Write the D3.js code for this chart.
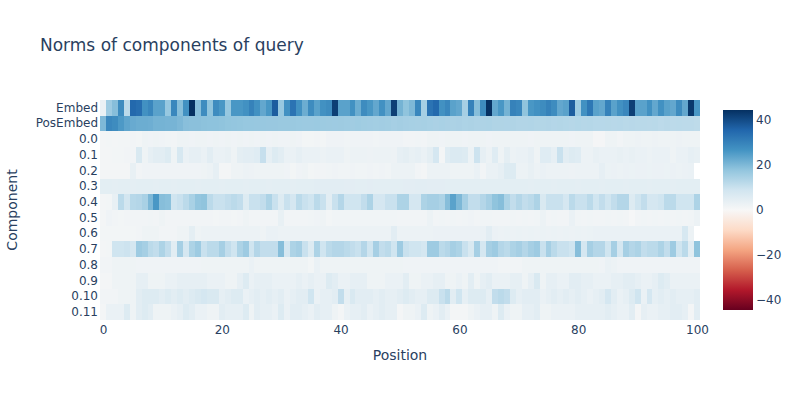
<!DOCTYPE html>
<html>
<head>
<meta charset="utf-8">
<script src="https://cdn.jsdelivr.net/npm/d3@7"></script>
<style>
  body { margin: 0; background: #fff; }
  svg text { font-family: "DejaVu Sans", verdana, arial, sans-serif; fill: #2a3f5f; }
</style>
</head>
<body>
<svg id="chart" width="800" height="400"></svg>
<script>
const components = ["Embed","PosEmbed","0.0","0.1","0.2","0.3","0.4","0.5","0.6","0.7","0.8","0.9","0.10","0.11"];
const positions = d3.range(0, 101);
const xTickValues = [0, 20, 40, 60, 80, 100];
const cbTickValues = [-40, -20, 0, 20, 40];

const embed = [3,16,19,28,12,35,34,27,29,24,24,17,29,19,27,44.4,19,28,18,28,26,17,26,26,27,30,27,23,26,37,17,27,33,27,22,28,24,27,28,42,24,24,27,22,28,26,23,27,23,42,21,
  18,20,29,15,33,35,27,29,24,23,15,30,19,28,44.2,23,26,21,30,29,18,26,27,28,30,28,23,24,37,16,27,32,24,23,30,24,27,29,42,24,24,27,23,27,24,23,28,23,43,26];
const posEmbed = [20,29,28,25.5,23.5,22.5,22,22,21.8,21,21,20.8,20.8,20,18.8,18.6,18.6,18.3,18.2,18.2,18,17.6,17.5,17.3,17,17,16.9,16.9,16.8,16.8,16.7,16.7,16.6,16.5,
  16.4,16.3,16.5,16.2,16.1,16,16.1,15.9,15.7,15.9,15.6,15.5,15.3,15.5,15.3,15,15.2,15,14.8,14.6,14.8,14.5,14.3,14.5,14.3,14.1,14.3,14,14.1,13.8,13.8,13.9,13.6,13.6,
  13.5,13.6,13.3,13.3,13.4,13.1,13.1,13.2,13,13.1,12.9,12.7,12.9,12.7,12.8,12.5,12.5,12.6,12.4,12.5,12.2,12.4,12.2,12.3,12.1,12.2,11.9,12.1,11.9,12,11.8,11.9,11.6];
const l0_0 = [1,1.1,1,1.2,1.1,1.3,1.2,2,1.8,2.1,1.9,1.7,1.5,2,2.2,1.8,2,2,1.9,2.1,1.8,2,1.9,2.1,1.8,2,1.9,2,1.8,2.1,1.9,1.8,2,1.9,
  1.2,1.2,1.3,1.2,1.8,1.9,1.8,1.7,1.9,1.8,1.8,1.9,1.7,1.8,1.9,1.8,1.8,1.5,1.5,1.6,1.5,2,2.1,1.9,2,2.1,2,1.9,2,2.1,2,1.9,2,2,
  2.1,2,2,2.1,1.9,2.1,2,2.2,2,2.1,2,1.9,2.1,2,2,0.8,0.8,2,2.1,1.5,2.2,2.2,2.3,2.1,2.2,2.3,2.2,2.1,2.2,2.3,2.2,2.2,2.1];
const l0_1 = [1,1,1.2,1.1,1.3,1.5,7,2,4,5,5,6,2,7.5,3,4,4,3,5,3,3,3.5,2,4.5,5,5,5.5,10.5,4,6,5,3,3,4,
  3,3,3,2.5,3,3,3,2,2.5,2.5,2.6,2.4,2.5,2.6,2.5,2.4,4,4.5,3.5,4,3,4.5,8,1,5.5,6.5,6.5,6,2.5,9.5,4,2.5,5.5,
  2,4.5,2.5,3,3,4,2,5.5,5.5,4,10,5,6,5.5,2.5,2.5,3.5,3,3,3,3.5,3,3.5,3,3,2.5,3,3,3,2,3,3,4,3.5];
const l0_2 = [1,1,1,1,1,3.5,1.5,1.8,1.8,1.9,1.8,1.8,1.9,1.8,1.8,1.9,1.8,2,2.5,4,1,1,2,2,2.5,2.3,2.2,2,2,2.2,2,1.8,1.2,1.8,
  2,1.2,1.3,1.5,1.6,1.8,1.6,1.7,1.8,1.7,1.6,1.8,1.7,1.8,1.7,2.5,2.5,2.5,2.5,1.5,1,2.5,2.5,2.5,2.5,2,2,2,2,3,1.5,3,3,
  4,6,6,2.5,2.5,3.5,2.5,3,2.5,2.5,2.6,2.5,2.4,2.5,2.6,2.5,2.5,4,2.7,2.8,2.6,2.8,2.7,2.9,2.8,2.7,2.8,2.9,2.7,2.8,2.6,2.8,3];
const l0_3 = [4.6,4.6,4.5,4.6,4.6,4.5,4.6,4.6,4.6,4.5,4.6,4.6,4.5,4.6,4.6,4.6,4.5,4.6,4.6,4.6,4.5,4.6,4.6,4.6,4.5,4.6,4.6,4.6,4.5,4.6,4.6,4.6,4.5,4.6,
  4.6,4.6,4.8,4.8,4.9,4.8,4.8,4.7,4.7,4.6,4.6,4.7,4.6,4.6,4.6,4.6,4.6,4.7,4.7,4.8,4.8,4.7,4.7,4.7,4.6,4.6,4.6,4.6,4.6,4.6,4.6,4.6,4.6,
  4.6,4.6,4.6,4.6,4.6,4.5,4.6,4.6,4.6,4.5,4.6,4.6,4.6,4.5,4.6,4.6,4.6,4.5,4.6,4.6,4.6,4.5,4.6,4.6,4.6,4.5,4.6,4.6,4.6,4.5,4.6,4.6,4.6,4.6];
const l0_4 = [1,1.2,3.5,12,8.5,12.5,13,14.5,20,26,19,18.5,9,10,12,14.5,17.5,18,12,10,10,11,12,11,6,10,10,11,14,10,6,10,8,12,
  10,9,12,10,5,10,13,9,9,9,11,14,8,8,10,10,14,14,8,8,14,15,15,14,19,24,20,15,11,11,13,15,18,
  19,14,11,13,11,12,14,7,10,10,10,8,12,10,10,12,9,11,9,11,13,13,6,9,11,8,8,9,12,12,9,9,9,14];
const l0_5 = [1,1.8,1.3,1.2,1.4,1.3,1.5,1.4,1.6,1.5,2.2,1.4,1.5,1.4,1.3,1.5,1.4,1.3,1.3,1.2,1.3,1.3,1.2,1.3,2.2,1.5,1.5,1.5,1.5,1.5,3.5,1.4,1.4,1.4,
  1.5,1.7,1.8,2,1.2,1.6,1.7,1.6,1.7,1.6,1.7,1.6,1.7,1.6,1.7,1.6,1.5,1.3,1.3,1.3,1.4,2.5,1.5,1.6,1.5,1.6,1.5,1.6,1.8,1.5,1.6,1.7,1.5,
  1.5,1.5,1.6,1.5,1.6,1.5,1.6,2.5,1.5,1.6,1.5,1.5,3,1.6,1.5,1.6,1.5,1.5,1.6,1.5,1.6,1.5,0.5,1.5,1.6,1.5,1.6,1.5,1.6,1.5,1.6,1.5,1.6,2.5];
const l0_6 = [1.2,1.2,1.2,1.2,1.2,1.2,1.3,2,2,2,1.5,1.5,1.5,2,2,4.5,2,2.5,2.5,2.5,2.5,2.5,2.5,2.5,2.5,2.5,2.5,2,3,3,2.5,2.5,2.5,2.5,
  2.5,2.5,2.5,2.5,2.5,2.5,2.5,2.5,2.5,2.5,2.5,2.5,2.5,2.5,2.5,5,2.5,2.5,2.5,2.5,2.5,2.5,2.8,2.8,2.8,2.8,2.8,2.8,2.8,2.8,3,5,2.8,
  2.6,2.7,2.6,2.7,2.6,2.7,2.6,2.7,2.6,2.7,2.6,2.7,2.6,2.7,2.6,2.7,3,3,3,3,3,3,3,3,3,3,3,3,3,3,3,7.5,2.5];
const l0_7 = [1,1.2,9,9,9.5,8,16,15,12,11,14,11,5,15,8,14,16,10,12,12,15,11,9,14,16,9,13,11,11,11,19,8,14,15,
  10,6,14,9,12,13,13,12,11,10,13,9,15,11,12,9,16,10,9,9,8,16,16,12,13,15,14,10,7,15,8,15,16,
  13,12,14,15,13,15,16,10,15,12,10,10,9,19,8,15,13,13,9,15,8,15,13,14,11,12,12,14,11,16,9,12,5,18];
const l0_8 = [1.5,1.5,2,2,2,2,1.8,1.8,1.8,1.8,1.8,1.8,1.8,1.8,1.8,1.8,1.8,2.2,2.2,2.2,2.2,2.2,2.2,2.2,2.2,3,2.2,2.2,2.2,2.2,2.2,2.2,2.2,2.2,
  2,1.2,3,2,2,2,2,2,2,2,2,2,2,2,2,2,2,1.8,1.8,1.8,1.8,1.8,1.8,1.8,1.8,1.8,1.8,1.8,1.8,1.8,1.8,1.8,1.8,
  1.5,1.5,1.5,1.5,2,2,2,2,2,2,2,2,2,2,2,2,2,1.8,3,2.5,1.8,1.8,1.8,1.8,1.8,1.8,1.8,1.8,1.8,1.8,1.8,1.8,1.8,1.8];
const l0_9 = [1,1,2,2,2,2,4,4,2,2,2,3,3,4,4,4,4,4,3,3,3,2,2,4,6,3,4,4,4,3,3,3,3,4,
  3,4,3,3,6,5,3,3,4,4,4,2,2,2,3,3,3,5,2,2,3,3,4,4,2,2,3,2,5,2,4,5,3,
  3,3,4,4,2,4,7,2,4,4,3,3,5,5,4,4,3,3,3,4,4,5,5,4,3,3,4,6,5,3,3,3,3,3];
const l0_10 = [1.5,1.5,1.5,2,2,2,5,6,6,6,5,6,5,6,5,6,7,8,7,7,4,5,6,6,3,4,5,4,5,4,5,3,4,5,
  5,9,3,4,4,5,11,4,7,5,5,5,4,5,4,4,5,6,5,4,4,6,6,10,12,5,9,4,6,6,6,4,11,
  12,11,6,4,5,5,5,3,4,5,4,5,4,5,4,3,4,5,8,5,3,4,6,9,3,8,4,5,4,5,4,4,4,5];
const l0_11 = [1,3,3,3,6,2,5,6,5,2,2,2,3,4,6,5,3,3,2,2,5,4,4,4,6,2,5,4,4,3,6,3,5,5,
  4,3,5,4,4,2,1,3,4,4,5,3,4,5,4,4,1,2,2,3,6,2,3,5,3,1,1,1,2,3,4,4,2,
  6,3,2,2,4,4,5,2,2,3,3,3,3,4,4,4,4,4,5,4,3,3,5,1,4,3,3,4,4,5,5,4,1,5];

const rows = [embed, posEmbed, l0_0, l0_1, l0_2, l0_3, l0_4, l0_5, l0_6, l0_7, l0_8, l0_9, l0_10, l0_11];

const rdbu = ["rgb(103,0,31)","rgb(178,24,43)","rgb(214,96,77)","rgb(244,165,130)","rgb(253,219,199)",
  "rgb(247,247,247)","rgb(209,229,240)","rgb(146,197,222)","rgb(67,147,195)","rgb(33,102,172)","rgb(5,48,97)"];

const svg = d3.select("#chart");
const plot = { left: 100, right: 700, top: 100, bottom: 320 };
const fontStack = "'DejaVu Sans', verdana, arial, sans-serif";

const zMax = d3.max(rows, r => d3.max(r, v => Math.abs(v)));
const zMin = -zMax;
const color = d3.scaleLinear()
  .domain(rdbu.map((c, i) => zMin + (zMax - zMin) * i / (rdbu.length - 1)))
  .range(rdbu)
  .interpolate(d3.interpolateRgb)
  .clamp(true);

const x = d3.scaleLinear().domain([-0.5, 100.5]).range([plot.left, plot.right]);
const y = d3.scaleBand().domain(components).range([plot.top, plot.bottom]).padding(0);

const cells = [];
rows.forEach((r, i) => r.forEach((v, j) => cells.push({ comp: components[i], pos: positions[j], v })));

svg.append("g").selectAll("rect").data(cells).join("rect")
  .attr("x", d => x(d.pos - 0.5))
  .attr("y", d => y(d.comp))
  .attr("width", d => x(d.pos + 0.5) - x(d.pos - 0.5) + 0.4)
  .attr("height", y.bandwidth() + 0.4)
  .attr("fill", d => color(d.v))
  .attr("shape-rendering", "crispEdges");

// x axis
const xAxis = svg.append("g").attr("transform", `translate(0,${plot.bottom})`)
  .call(d3.axisBottom(x).tickValues(xTickValues).tickSize(0).tickPadding(5));
xAxis.select(".domain").remove();
xAxis.selectAll("text").style("font-size", "12px").attr("fill", "#2a3f5f").style("font-family", fontStack);

// y axis
const yAxis = svg.append("g").attr("transform", `translate(${plot.left},0)`)
  .call(d3.axisLeft(y).tickSize(0).tickPadding(2));
yAxis.select(".domain").remove();
yAxis.selectAll("text").style("font-size", "12px").attr("fill", "#2a3f5f").style("font-family", fontStack);

// axis titles
svg.append("text").attr("x", (plot.left + plot.right) / 2).attr("y", 360)
  .attr("text-anchor", "middle").style("font-size", "14px").text("Position");
svg.append("text").attr("transform", `translate(17,${(plot.top + plot.bottom) / 2}) rotate(-90)`)
  .attr("text-anchor", "middle").style("font-size", "14px").text("Component");

// title
svg.append("text").attr("x", 40).attr("y", 51).style("font-size", "17px").text("Norms of components of query");

// colorbar
const cb = { x: 723, w: 30, top: 110, bottom: 310 };
const defs = svg.append("defs");
const grad = defs.append("linearGradient").attr("id", "cbgrad")
  .attr("x1", "0%").attr("y1", "100%").attr("x2", "0%").attr("y2", "0%");
rdbu.forEach((c, i) => grad.append("stop").attr("offset", (i / (rdbu.length - 1) * 100) + "%").attr("stop-color", c));
svg.append("rect").attr("x", cb.x).attr("y", cb.top).attr("width", cb.w).attr("height", cb.bottom - cb.top)
  .attr("fill", "url(#cbgrad)");
const cbScale = d3.scaleLinear().domain([zMin, zMax]).range([cb.bottom, cb.top]);
const cbAxis = svg.append("g").attr("transform", `translate(${cb.x + cb.w},0)`)
  .call(d3.axisRight(cbScale).tickValues(cbTickValues).tickSize(0).tickPadding(3)
    .tickFormat(d => d < 0 ? "\u2212" + Math.abs(d) : String(d)));
cbAxis.select(".domain").remove();
cbAxis.selectAll("text").style("font-size", "12px").attr("fill", "#2a3f5f").style("font-family", fontStack);
</script>
</body>
</html>
